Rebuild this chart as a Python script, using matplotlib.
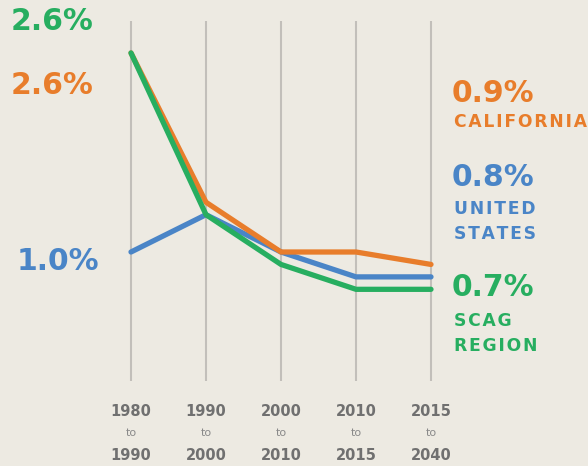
import matplotlib
matplotlib.use("Agg")
import matplotlib.pyplot as plt

# ---- data ----
periods_start = ["1980", "1990", "2000", "2010", "2015"]
periods_end = ["1990", "2000", "2010", "2015", "2040"]
california = [2.6, 1.4, 1.0, 1.0, 0.9]
united_states = [1.0, 1.3, 1.0, 0.8, 0.8]
scag_region = [2.6, 1.3, 0.9, 0.7, 0.7]

BG = "#edeae2"
ORANGE = "#e87d2b"
BLUE = "#4a85c7"
GREEN = "#27ae60"
GRAY = "#707070"
GRID = "#c2bfba"

W, H = 588, 466
fig = plt.figure(figsize=(W / 100, H / 100), dpi=100, facecolor=BG)
ax = fig.add_axes([0, 0, 1, 1])
ax.set_facecolor(BG)
ax.axis("off")

# map pixels: x 131..431 -> 0..4 ; y value 1.0 at px 252, 124.4 px per 1%
px_per_x = 75.0
px_per_y = 124.4
ax.set_xlim(-131 / px_per_x, (W - 131) / px_per_x)
ax.set_ylim(1.0 - (H - 252) / px_per_y, 1.0 + 252 / px_per_y)

xs = list(range(len(periods_start)))
ax.vlines(xs, -0.04, 2.86, colors=GRID, linewidth=1.5, zorder=1)

lw = 3.8
ax.plot(xs, united_states, color=BLUE, lw=lw, solid_capstyle="round", solid_joinstyle="miter", zorder=3)
ax.plot(xs, california, color=ORANGE, lw=lw, solid_capstyle="round", solid_joinstyle="miter", zorder=4)
ax.plot(xs, scag_region, color=GREEN, lw=lw, solid_capstyle="round", solid_joinstyle="miter", zorder=5)


def ftext(x, y, s, **kw):
    fig.text(x / W, 1 - y / H, s, **kw)


def spaced(s):
    return "\u200a".join(s)


big = dict(fontsize=21.5, fontweight="bold", family="DejaVu Sans", va="center")
# left labels
ftext(11, 22, f"{scag_region[0]:.1f}%", color=GREEN, ha="left", **big)
ftext(11, 85, f"{california[0]:.1f}%", color=ORANGE, ha="left", **big)
ftext(17, 262, f"{united_states[0]:.1f}%", color=BLUE, ha="left", **big)

# right labels
small = dict(fontsize=12.3, fontweight="bold", family="DejaVu Sans", va="center", ha="left")
ftext(452, 93, f"{california[-1]:.1f}%", color=ORANGE, ha="left", **big)
ftext(454, 122, spaced("CALIFORNIA"), color=ORANGE, **small)
ftext(452, 178, f"{united_states[-1]:.1f}%", color=BLUE, ha="left", **big)
ftext(454, 209, spaced("UNITED"), color=BLUE, **small)
ftext(454, 234, spaced("STATES"), color=BLUE, **small)
ftext(452, 288, f"{scag_region[-1]:.1f}%", color=GREEN, ha="left", **big)
ftext(454, 321, spaced("SCAG"), color=GREEN, **small)
ftext(454, 346, spaced("REGION"), color=GREEN, **small)

# x tick labels
for i, (a, b) in enumerate(zip(periods_start, periods_end)):
    xp = 131 + i * px_per_x
    ftext(xp, 411, a, color=GRAY, fontsize=10.5, fontweight="bold", family="DejaVu Sans", ha="center", va="center")
    ftext(xp, 433, "to", color="#8a8a8a", fontsize=8, family="DejaVu Sans", ha="center", va="center")
    ftext(xp, 455, b, color=GRAY, fontsize=10.5, fontweight="bold", family="DejaVu Sans", ha="center", va="center")

fig.savefig("out.png", dpi=100, facecolor=BG)
